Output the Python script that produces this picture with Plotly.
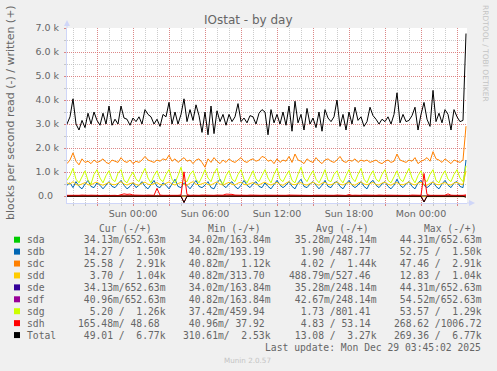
import pandas as pd
import plotly.graph_objects as go

# ---------------- data ----------------
t_start = "2025-12-27 18:30"
t_end = "2025-12-29 03:50"
times = pd.date_range(t_start, periods=134, freq="15min")
coarse_times = list(pd.date_range(t_start, periods=12, freq="3h")) + [pd.Timestamp("2025-12-29 03:45")]

devices = ["sda", "sdb", "sdc", "sdd", "sde", "sdf", "sdg", "sdh", "Total"]
colors = ["#00CC00", "#0066B3", "#FF8000", "#FFCC00", "#330099", "#990099", "#CCFF00", "#FF0000", "#000000"]

# tiny series (coarse grid)
sda_read = [0.04, 0.035, 0.03, 0.04, 0.035, 0.03, 0.04, 0.035, 0.03, 0.04, 0.035, 0.04, 0.034]
sda_write = [0.25, 0.2, 0.3, 0.22, 0.18, 0.28, 0.24, 0.2, 0.3, 0.26, 0.22, 0.3, 0.65]
sdb_read = [1.5, 2.0, 1.2, 3.5, 1.0, 2.5, 1.8, 1.4, 2.2, 1.6, 2.8, 1.9, 14.27]
sdc_read = [3.0, 4.5, 2.5, 6.0, 3.5, 4.0, 5.0, 3.0, 4.5, 2.8, 3.8, 4.2, 25.58]
sdd_read = [0.4, 0.6, 0.5, 0.3, 0.7, 0.5, 0.4, 0.6, 0.5, 0.3, 0.5, 0.4, 3.7]
sde_read = [0.04, 0.035, 0.03, 0.04, 0.035, 0.03, 0.04, 0.035, 0.03, 0.04, 0.035, 0.04, 0.034]
sde_write = [0.24, 0.21, 0.29, 0.23, 0.19, 0.27, 0.25, 0.2, 0.29, 0.25, 0.23, 0.31, 0.65]
sdf_read = [0.045, 0.04, 0.05, 0.04, 0.045, 0.04, 0.05, 0.04, 0.045, 0.04, 0.05, 0.045, 0.041]
sdf_write = [0.25, 0.2, 0.28, 0.22, 0.3, 0.24, 0.2, 0.27, 0.25, 0.22, 0.3, 0.24, 0.65]
sdg_read = [1.2, 2.0, 1.5, 1.0, 1.8, 2.2, 1.4, 1.7, 1.1, 1.9, 1.6, 1.3, 5.2]

# main series (15-minute grid)
sdb_write = [
    450, 550, 350, 600, 400, 300, 500, 650, 400, 350, 550, 450, 300, 450, 600, 400, 350, 500, 650, 450,
    300, 400, 550, 350, 450, 600, 400, 300, 500, 650, 400, 350, 550,
    450, 300, 500, 700, 400, 350, 550, 450, 300, 500, 650, 400, 350, 450, 600, 350, 300, 550, 700, 450,
    350, 500, 600, 400, 300, 450, 650, 450, 350, 500, 600, 400, 350,
    550, 400, 300, 500, 650, 450, 350, 450, 600, 400, 300, 550, 700, 400, 350, 500, 600, 450, 300, 450,
    650, 400, 350, 550, 600, 400, 300, 500, 650, 450, 350, 450, 600,
    400, 300, 550, 650, 450, 350, 500, 600, 400, 300, 450, 700, 450, 350, 500, 600, 400, 300, 550, 650,
    450, 350, 450, 600, 400, 300, 500, 650, 450, 350, 550, 600, 400, 350, 1500]
sdc_write = [
    1350, 1500, 1800, 1450, 1300, 1550, 1400, 1450, 1350, 1500, 1400, 1450, 1550, 1400, 1350, 1500, 1450, 1400, 1600, 1450,
    1400, 1500, 1350, 1450, 1400, 1500, 1650, 1500, 1450, 1400, 1500, 1450, 1550,
    1500, 1700, 1450, 1550, 1400, 1500, 1600, 1450, 1500, 1350, 1500, 1550, 1400, 1200, 1550, 1400, 1600, 1450, 1350, 1500,
    1400, 1550, 1450, 1400, 1500, 1600, 1450, 1400, 1500, 1550, 1450, 1500, 1650,
    1600, 1450, 1500, 1350, 1550, 1400, 1500, 1450, 1650, 1400, 1750, 1500, 1450, 1350, 1550, 1450, 1400, 1600, 1450, 1350,
    1500, 1550, 1450, 1400, 1500, 1650, 1450, 1400, 1500, 1450, 1550, 1400, 1500,
    1450, 1500, 1400, 1450, 1500, 1400, 1350, 1450, 1500, 1400, 1450, 1750, 1500, 1450, 1400, 1500, 1450, 1600, 1350, 1450,
    1500, 1600, 1450, 1850, 1550, 1500, 1400, 1550, 1450, 1350, 1500, 1450, 1400, 1500, 2910]
sdd_write = [
    550, 500, 600, 480, 450, 520, 560, 470, 460, 540, 580, 490, 450, 510, 570, 480, 470, 530, 600, 500,
    460, 520, 550, 480, 450, 540, 580, 490, 470, 520, 560, 480, 460,
    530, 590, 500, 460, 520, 570, 480, 450, 540, 600, 490, 470, 510, 560, 480, 460, 530, 590, 500, 450,
    520, 570, 490, 460, 540, 580, 480, 470, 520, 560, 490, 460, 530,
    580, 500, 460, 520, 570, 480, 450, 540, 600, 490, 470, 530, 560, 480, 460, 520, 580, 500, 450, 540,
    570, 480, 470, 520, 590, 490, 460, 530, 560, 480, 450, 540, 590,
    500, 470, 520, 570, 480, 460, 540, 580, 490, 450, 530, 560, 480, 470, 520, 590, 500, 460, 540, 570,
    480, 450, 530, 580, 490, 470, 520, 560, 480, 460, 540, 570, 500, 480, 1040]
sdg_write = [
    650, 850, 1150, 700, 550, 800, 1050, 650, 500, 900, 1100, 750, 550, 850, 1050, 700, 600, 950, 1100, 650,
    550, 800, 1000, 700, 600, 900, 1150, 750, 550, 850, 1050, 700, 600,
    900, 1100, 700, 550, 850, 1200, 650, 600, 900, 1050, 700, 550, 800, 1100, 750, 600, 950, 1150, 650, 500,
    850, 1050, 700, 600, 900, 1100, 700, 550, 800, 1050, 700, 600, 850,
    1100, 750, 550, 900, 1150, 700, 600, 850, 1050, 650, 550, 900, 1200, 750, 600, 850, 1050, 700, 550, 800,
    1100, 650, 600, 900, 1050, 700, 550, 850, 1100, 750, 600, 900, 1150,
    700, 550, 850, 1050, 700, 600, 900, 1100, 650, 550, 800, 1050, 700, 600, 900, 1150, 750, 550, 850, 1050,
    700, 600, 900, 1100, 650, 550, 850, 1050, 700, 600, 900, 1100, 750, 600, 1260]
sdh_write = [
    30, 25, 35, 20, 30, 40, 25, 30, 35, 20, 30, 25, 40, 30, 25, 35, 30, 20, 60, 90,
    70, 80, 40, 30, 35, 25, 30, 40, 35, 30, 320, 40, 30,
    25, 35, 30, 40, 30, 45, 1006.72, 60, 30, 35, 25, 30, 40, 30, 35, 25, 30, 40, 30, 35,
    80, 90, 70, 40, 30, 35, 25, 30, 40, 30, 25, 35, 30,
    35, 30, 25, 40, 30, 35, 25, 30, 40, 35, 30, 25, 35, 30, 40, 30, 25, 35, 30, 40,
    30, 35, 25, 30, 40, 30, 35, 25, 60, 30, 35, 25, 30,
    40, 30, 25, 35, 30, 40, 25, 30, 35, 30, 25, 40, 30, 35, 30, 25, 40, 30, 35, 30,
    940, 60, 30, 35, 25, 30, 40, 30, 90, 35, 30, 25, 40, 30, 48.68]
sdh_read = [
    0.2, 0.1, 0.3, 0.2, 0.1, 0.2, 0.3, 0.1, 0.2, 0.2, 0.1, 0.3, 0.2, 0.1, 0.2, 0.2, 0.3, 0.1, 0.5, 1.2,
    0.8, 0.6, 0.2, 0.1, 0.2, 0.3, 0.1, 0.2, 0.2, 0.1, 6.5, 0.3, 0.2,
    0.1, 0.2, 0.3, 0.2, 0.1, 0.4, 268.62, 1.5, 0.2, 0.1, 0.3, 0.2, 0.1, 0.2, 0.3, 0.1, 0.2, 0.2, 0.1, 0.3,
    0.9, 1.1, 0.7, 0.2, 0.1, 0.2, 0.3, 0.1, 0.2, 0.2, 0.1, 0.3, 0.2,
    0.2, 0.1, 0.3, 0.2, 0.1, 0.2, 0.2, 0.3, 0.1, 0.2, 0.2, 0.1, 0.3, 0.2, 0.1, 0.2, 0.2, 0.3, 0.1, 0.2,
    0.2, 0.1, 0.3, 0.2, 0.1, 0.2, 0.2, 0.3, 0.5, 0.2, 0.1, 0.2, 0.3,
    0.2, 0.1, 0.3, 0.2, 0.1, 0.2, 0.2, 0.3, 0.1, 0.2, 0.2, 0.1, 0.3, 0.2, 0.1, 0.2, 0.2, 0.3, 0.1, 0.2,
    240.0, 2.1, 0.3, 0.2, 0.1, 0.2, 0.3, 0.1, 0.8, 0.2, 0.1, 0.2, 0.3, 0.2, 0.165]
total_write = [
    3000, 3300, 4050, 3000, 2750, 3150, 2850, 3450, 3000, 3500, 3150, 2950, 3450, 3000, 3750, 2950, 3200, 3000, 3750, 3250,
    3200, 2950, 3250, 3100, 3300, 3000, 3600, 3400, 3300, 3000, 3200, 2900, 3400,
    3300, 3900, 3000, 3500, 3000, 3400, 4050, 3100, 3600, 3150, 3800, 3350, 2650, 3500, 2550, 3750, 2600, 3550, 3100, 3400,
    2950, 3400, 3100, 3300, 3850, 3100, 3250, 3050, 3350, 3300, 3000, 3450, 3600,
    3500, 2550, 3600, 3050, 3400, 3000, 3500, 2950, 3750, 2700, 3950, 3050, 3400, 2750, 3650, 3000, 3250, 2850, 3500, 2700,
    3600, 3250, 3100, 3300, 4000, 2900, 3400, 2750, 3500, 3000, 3700, 3150, 3300,
    2900, 3100, 3700, 3350, 3200, 3000, 3200, 3100, 3300, 3000, 3400, 4300, 3050, 3400, 3100, 3150, 3350, 3700, 2750, 3400,
    3900, 3200, 2900, 4400, 3100, 3450, 3050, 3600, 3400, 2750, 3600, 3300, 3100, 3150, 6770]
total_read = [
    8, 9, 7, 10, 8, 9, 8, 7, 9, 10, 8, 9, 7, 8, 10, 9, 8, 7, 9, 10,
    9, 8, 8, 9, 7, 8, 10, 9, 8, 7, 15, 9, 8,
    9, 8, 10, 8, 7, 9, 269.36, 10, 8, 9, 7, 8, 9, 10, 8, 7, 9, 8, 9, 8,
    10, 11, 9, 8, 7, 9, 8, 10, 9, 8, 7, 9, 8,
    9, 8, 7, 10, 9, 8, 8, 9, 7, 8, 9, 10, 8, 7, 9, 8, 9, 8, 7, 10,
    9, 8, 8, 9, 7, 8, 10, 9, 9, 8, 7, 9, 8,
    8, 9, 7, 10, 8, 9, 8, 7, 9, 10, 8, 9, 7, 8, 10, 9, 8, 7, 9, 10,
    249, 12, 9, 8, 7, 9, 8, 10, 9, 8, 7, 9, 8, 10, 49.01]

# legend table text
headers = ["Cur (-/+)", "Min (-/+)", "Avg (-/+)", "Max (-/+)"]
cur_cells = [" 34.13m/652.63m", " 14.27 /  1.50k", " 25.58 /  2.91k", "  3.70 /  1.04k", " 34.13m/652.63m",
             " 40.96m/652.63m", "  5.20 /  1.26k", "165.48m/ 48.68 ", " 49.01 /  6.77k"]
min_cells = [" 34.02m/163.84m", " 40.82m/193.19 ", " 40.82m/  1.12k", " 40.82m/313.70 ", " 34.02m/163.84m",
             " 40.82m/163.84m", " 37.42m/459.94 ", " 40.96m/ 37.92 ", "310.61m/  2.53k"]
avg_cells = [" 35.28m/248.14m", "  1.90 /487.77 ", "  4.02 /  1.44k", "488.79m/527.46 ", " 35.28m/248.14m",
             " 42.67m/248.14m", "  1.73 /801.41 ", "  4.83 / 53.14 ", " 13.08 /  3.27k"]
max_cells = [" 44.31m/652.63m", " 52.75 /  1.50k", " 47.46 /  2.91k", " 12.83 /  1.04k", " 44.31m/652.63m",
             " 54.52m/652.63m", " 53.57 /  1.29k", "268.62 /1006.72", "269.36 /  6.77k"]
last_update = "Last update: Mon Dec 29 03:45:02 2025"
title_text = "IOstat - by day"
y_title = "blocks per second read (-) / written (+)"
x_tick_vals = ["2025-12-27 21:00", "2025-12-28 00:00", "2025-12-28 03:00", "2025-12-28 06:00",
               "2025-12-28 09:00", "2025-12-28 12:00", "2025-12-28 15:00", "2025-12-28 18:00",
               "2025-12-28 21:00", "2025-12-29 00:00", "2025-12-29 03:00"]
x_tick_labels = ["", "Sun 00:00", "", "Sun 06:00", "", "Sun 12:00", "", "Sun 18:00", "", "Mon 00:00", ""]
y_tick_vals = [0, 1000, 2000, 3000, 4000, 5000, 6000, 7000]
y_tick_labels = ["0.0\u00a0\u00a0", "1.0 k", "2.0 k", "3.0 k", "4.0 k", "5.0 k", "6.0 k", "7.0 k"]

# ---------------- layout helpers ----------------
W, H = 497, 371
L, R, T, B = 67, 30, 28, 168
PW, PH = W - L - R, H - T - B


def xp(px):
    return (px - L) / PW


def yp(py):
    return (H - B - py) / PH


FONT = "#666666"
MGRID = "rgba(230,90,90,0.6)"
GRID = "rgba(170,170,170,0.6)"
AXIS = "#CFD6F8"

series = [
    (coarse_times, sda_read, coarse_times, sda_write),
    (coarse_times, sdb_read, times, sdb_write),
    (coarse_times, sdc_read, times, sdc_write),
    (coarse_times, sdd_read, times, sdd_write),
    (coarse_times, sde_read, coarse_times, sde_write),
    (coarse_times, sdf_read, coarse_times, sdf_write),
    (coarse_times, sdg_read, times, sdg_write),
    (times, sdh_read, times, sdh_write),
    (times, total_read, times, total_write),
]

fig = go.Figure()
for name, col, (tr, rd, tw, wr) in zip(devices, colors, series):
    fig.add_trace(go.Scatter(x=tr, y=[-v for v in rd], mode="lines", line=dict(color=col, width=1),
                             hoverinfo="skip", showlegend=False))
    fig.add_trace(go.Scatter(x=tw, y=wr, mode="lines", line=dict(color=col, width=1),
                             name=name, hoverinfo="skip", showlegend=False))

fig.update_layout(
    width=W, height=H,
    margin=dict(l=L, r=R, t=T, b=B, pad=0),
    paper_bgcolor="#F0F0F0", plot_bgcolor="#FFFFFF",
    font=dict(family="DejaVu Sans", color=FONT),
    showlegend=False,
    xaxis=dict(
        type="date", range=[t_start, t_end],
        tickmode="array", tickvals=x_tick_vals, ticktext=x_tick_labels,
        showgrid=True, gridcolor=MGRID, griddash="1px,1px", gridwidth=1,
        ticks="outside", ticklen=2, tickcolor=MGRID,
        tickfont=dict(family="DejaVu Sans", size=9.5, color=FONT),
        showline=True, linecolor=AXIS, linewidth=1, zeroline=False,
        minor=dict(dtick=3600000, tick0="2025-12-27 19:00", showgrid=True, gridcolor=GRID,
                   griddash="1px,1px", ticks="outside", ticklen=2, tickcolor=GRID),
        fixedrange=True,
    ),
    yaxis=dict(
        range=[-290, 7000],
        tickmode="array", tickvals=y_tick_vals, ticktext=y_tick_labels,
        showgrid=True, gridcolor=MGRID, griddash="1px,1px", gridwidth=1,
        ticks="outside", ticklen=2, tickcolor=MGRID, ticklabelstandoff=3,
        tickfont=dict(family="DejaVu Sans", size=9.5, color=FONT),
        showline=True, linecolor=AXIS, linewidth=1, zeroline=False,
        minor=dict(dtick=500, tick0=0, showgrid=True, gridcolor=GRID, griddash="1px,1px",
                   ticks="outside", ticklen=2, tickcolor=GRID),
        fixedrange=True,
    ),
)

shapes = []
# axis arrows
shapes.append(dict(type="line", xref="paper", yref="paper", x0=xp(67), x1=xp(67), y0=yp(28), y1=yp(24),
                   line=dict(color=AXIS, width=1)))
shapes.append(dict(type="path", xref="paper", yref="paper",
                   path=f"M {xp(64)} {yp(26)} L {xp(70)} {yp(26)} L {xp(67)} {yp(20)} Z",
                   fillcolor=AXIS, line=dict(color=AXIS, width=0)))
shapes.append(dict(type="line", xref="paper", yref="paper", x0=xp(467), x1=xp(470), y0=yp(203), y1=yp(203),
                   line=dict(color=AXIS, width=1)))
shapes.append(dict(type="path", xref="paper", yref="paper",
                   path=f"M {xp(469)} {yp(200)} L {xp(469)} {yp(206)} L {xp(475)} {yp(203)} Z",
                   fillcolor=AXIS, line=dict(color=AXIS, width=0)))

annotations = []


def ann(text, px, py, xanchor="left", size=9.7, family="DejaVu Sans Mono", color=FONT, angle=0):
    annotations.append(dict(text=text, x=xp(px), y=yp(py), xref="paper", yref="paper",
                            xanchor=xanchor, yanchor="middle", showarrow=False, borderpad=0,
                            textangle=angle, font=dict(family=family, size=size, color=color)))


ann(title_text, 248.3, 19.5, xanchor="center", size=12, family="DejaVu Sans")
ann(y_title, 10, 113, xanchor="center", size=11, family="DejaVu Sans", angle=-90)
ann("RRDTOOL / TOBI OETIKER", 486, 53, xanchor="center", size=7.5, family="DejaVu Sans",
    color="#C4C4C4", angle=90)

header_x = [98.3, 206.7, 315, 422.7]
for htxt, hx in zip(headers, header_x):
    ann(htxt.replace(" ", "\u00a0"), hx, 228.5)

col_x = [77.3, 182.3, 287.7, 392.5]
row0, step = 239.7, 11.92
for i, (name, col) in enumerate(zip(devices, colors)):
    yc = row0 + i * step
    shapes.append(dict(type="rect", xref="paper", yref="paper", x0=xp(14), x1=xp(20),
                       y0=yp(yc + 3), y1=yp(yc - 3), fillcolor=col, line=dict(width=0)))
    ann(name, 26, yc)
    for cells, cx in zip([cur_cells, min_cells, avg_cells, max_cells], col_x):
        ann(cells[i].replace(" ", "\u00a0"), cx, yc)

ann(last_update.replace(" ", "\u00a0"), 482.3, 347.3, xanchor="right")
ann("Munin 2.0.57", 247.7, 360, xanchor="center", size=7.2, family="DejaVu Sans", color="#C4C4C4")

fig.update_layout(shapes=shapes, annotations=annotations)
fig.write_html("out.html", config={"displayModeBar": False},
               post_script="document.body.style.margin='0';document.body.style.overflow='hidden';")
